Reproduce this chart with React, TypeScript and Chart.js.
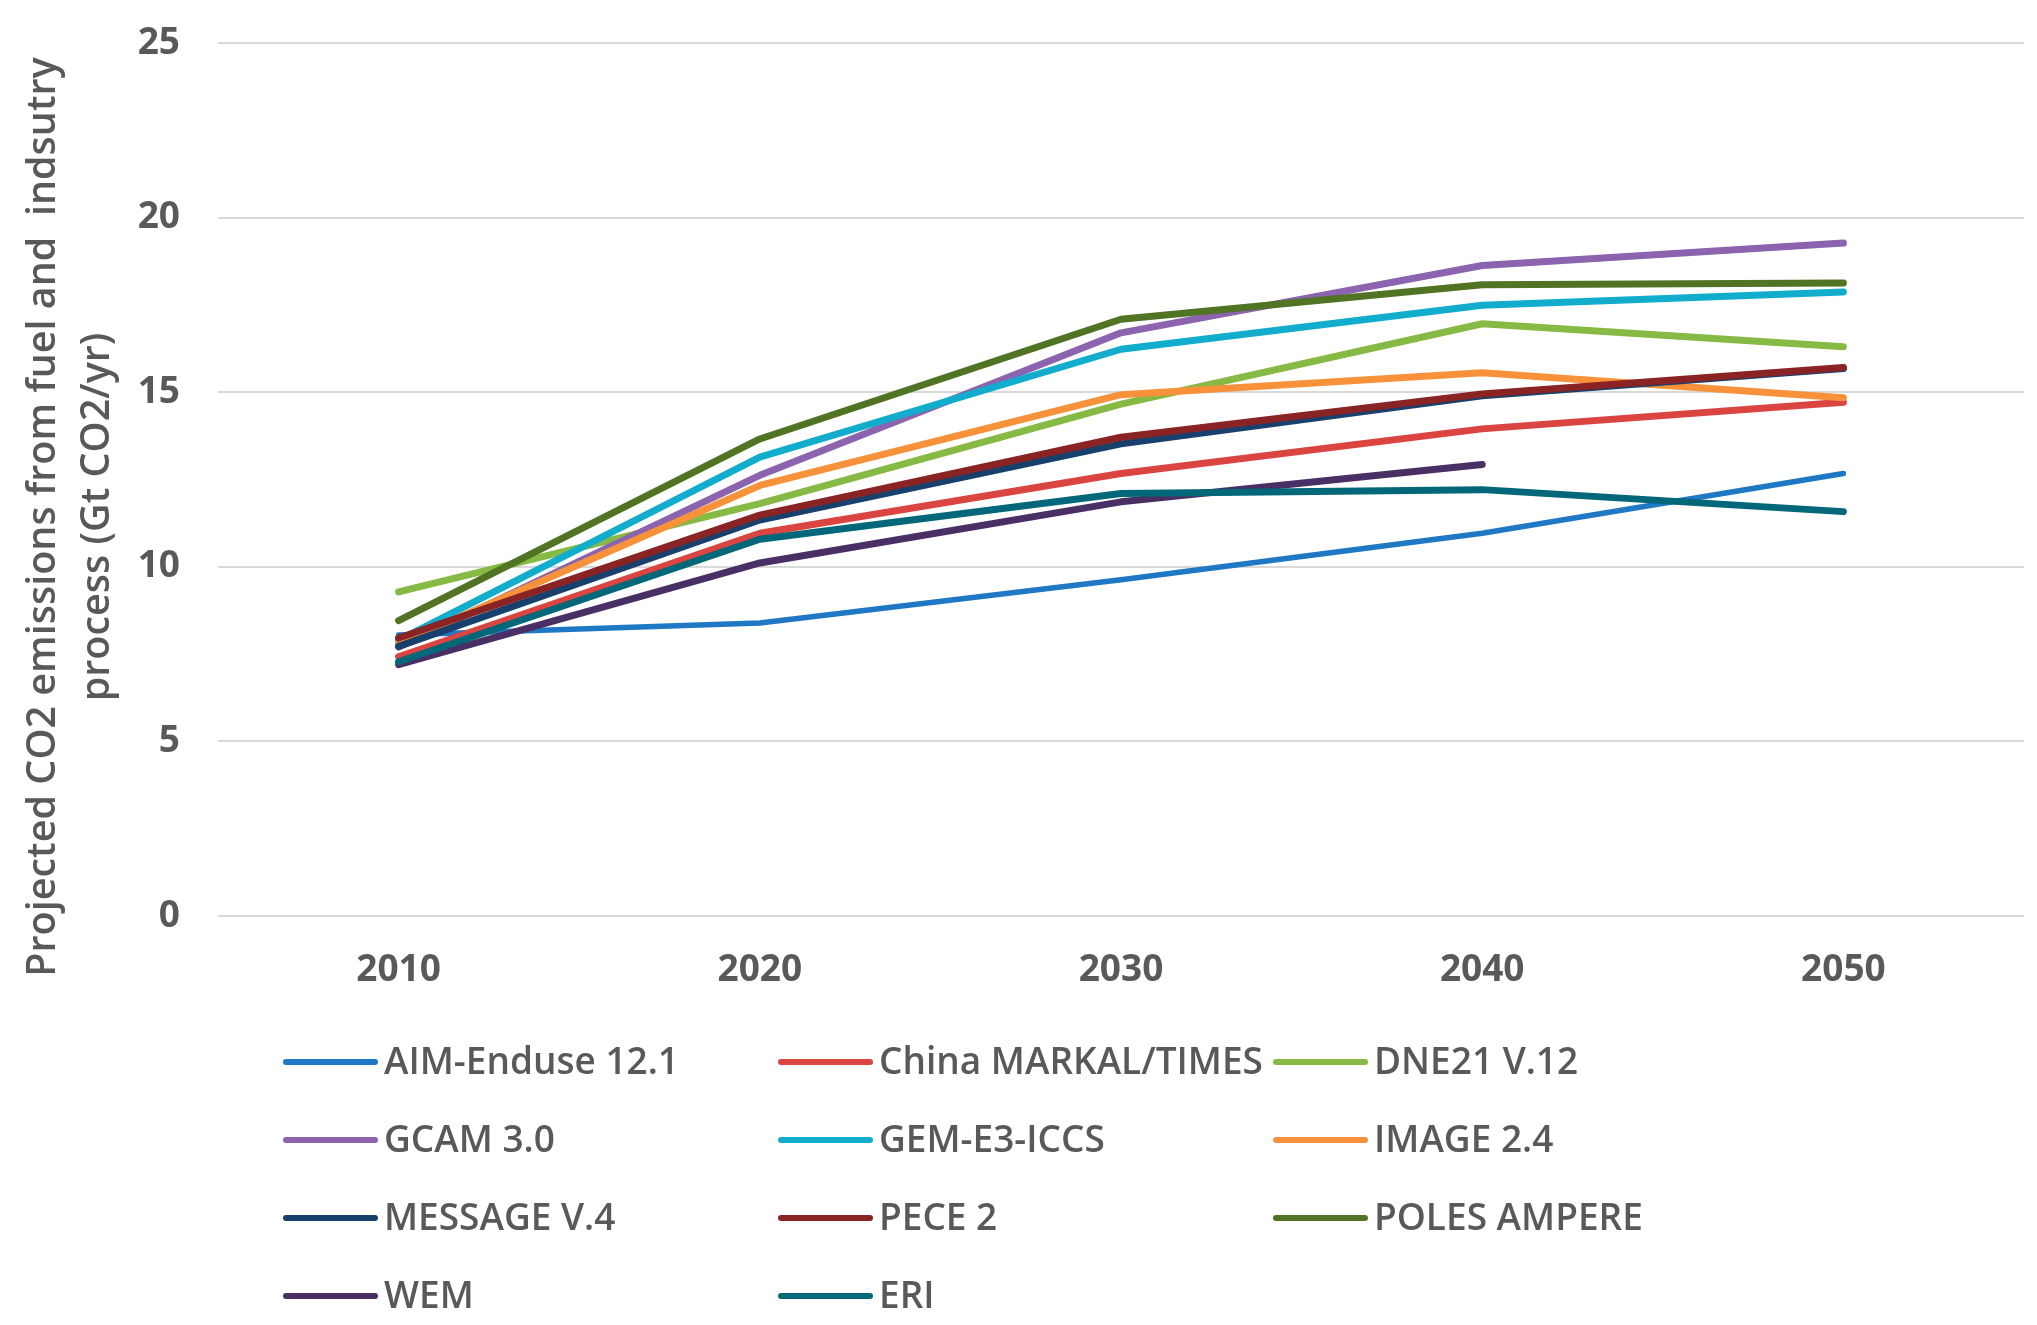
import React, { useEffect, useRef } from "react";
import { Chart, registerables } from "chart.js";

Chart.register(...registerables);

const years = ["2010", "2020", "2030", "2040", "2050"];
const yTicks = [0, 5, 10, 15, 20, 25];

const seriesNames = [
  "AIM-Enduse 12.1",
  "China MARKAL/TIMES",
  "DNE21 V.12",
  "GCAM 3.0",
  "GEM-E3-ICCS",
  "IMAGE 2.4",
  "MESSAGE V.4",
  "PECE 2",
  "POLES AMPERE",
  "WEM",
  "ERI",
];

const aimEnduse = [8.05, 8.39, 9.63, 10.96, 12.67];
const chinaMarkal = [7.42, 10.96, 12.67, 13.95, 14.71];
const dne21 = [9.28, 11.81, 14.66, 16.96, 16.3];
const gcam = [7.7, 12.62, 16.7, 18.63, 19.27];
const gemE3 = [7.9, 13.14, 16.23, 17.49, 17.87];
const image24 = [7.8, 12.33, 14.93, 15.56, 14.84];
const messageV4 = [7.72, 11.34, 13.52, 14.9, 15.68];
const pece2 = [7.96, 11.48, 13.71, 14.95, 15.71];
const polesAmpere = [8.46, 13.66, 17.09, 18.08, 18.13];
const wem = [7.2, 10.11, 11.86, 12.93, null];
const eri = [7.28, 10.79, 12.1, 12.21, 11.58];

const seriesValues = [
  aimEnduse,
  chinaMarkal,
  dne21,
  gcam,
  gemE3,
  image24,
  messageV4,
  pece2,
  polesAmpere,
  wem,
  eri,
];

const seriesColors = [
  "#1F78C4",
  "#DA4541",
  "#87BA44",
  "#8B63AE",
  "#12ADCD",
  "#F8923A",
  "#17406D",
  "#8A2323",
  "#507324",
  "#4A2F65",
  "#03677A",
];

const yTitleLines = [
  "Projected CO2 emissions from fuel and  indsutry",
  "process (Gt CO2/yr)",
];

const TEXT_COLOR = "#595959";
const FONT = "'Open Sans', 'DejaVu Sans', sans-serif";

const yTitlePlugin = {
  id: "yTitlePlugin",
  afterDraw(chart: any) {
    const ctx = chart.ctx;
    ctx.save();
    ctx.fillStyle = TEXT_COLOR;
    ctx.font = `600 39.5px ${FONT}`;
    ctx.textAlign = "center";
    ctx.textBaseline = "middle";
    const cy = 517;
    const xs = [44, 98];
    yTitleLines.forEach((line, i) => {
      ctx.save();
      ctx.translate(xs[i], cy);
      ctx.rotate(-Math.PI / 2);
      ctx.fillText(line, 0, 0);
      ctx.restore();
    });
    ctx.restore();
  },
};

const gridLegendPlugin = {
  id: "gridLegendPlugin",
  afterDraw(chart: any) {
    const ctx = chart.ctx;
    const area = chart.chartArea;
    const x0 = area.left + 65;
    const colW = 495;
    const y0 = 1062;
    const rowH = 78;
    const lineLen = 95;
    ctx.save();
    ctx.font = `600 37px ${FONT}`;
    ctx.textBaseline = "middle";
    ctx.textAlign = "left";
    chart.data.datasets.forEach((ds: any, i: number) => {
      const col = i % 3;
      const row = Math.floor(i / 3);
      const x = x0 + col * colW;
      const y = y0 + row * rowH;
      ctx.strokeStyle = ds.borderColor;
      ctx.lineWidth = 6;
      ctx.lineCap = "round";
      ctx.beginPath();
      ctx.moveTo(x + 3, y);
      ctx.lineTo(x + lineLen - 3, y);
      ctx.stroke();
      ctx.fillStyle = TEXT_COLOR;
      ctx.fillText(ds.label, x + lineLen + 6, y + 1);
    });
    ctx.restore();
  },
};

export default function App() {
  const canvasRef = useRef<HTMLCanvasElement | null>(null);

  useEffect(() => {
    document.body.style.margin = "0";
    document.body.style.overflow = "hidden";
    const canvas = canvasRef.current;
    if (!canvas) return;
    const chart = new Chart(canvas, {
      type: "line",
      data: {
        labels: years,
        datasets: seriesNames.map((name, i) => ({
          label: name,
          data: seriesValues[i],
          borderColor: seriesColors[i],
          backgroundColor: seriesColors[i],
          borderWidth: i === 0 ? 5.5 : 7,
          borderCapStyle: "round",
          borderJoinStyle: "round",
          pointRadius: 0,
          pointHoverRadius: 0,
          fill: false,
          tension: 0,
          order: -i,
        })),
      },
      options: {
        animation: false,
        responsive: false,
        devicePixelRatio: 1,
        layout: { padding: { top: 43, right: 13, left: 0, bottom: 0 } },
        plugins: {
          legend: { display: false },
          tooltip: { enabled: false },
          title: { display: false },
        },
        scales: {
          x: {
            type: "category",
            offset: true,
            grid: { display: false, drawTicks: false },
            border: { display: false },
            ticks: {
              color: TEXT_COLOR,
              font: { family: FONT, size: 37, weight: "bold" },
              padding: 32,
              maxRotation: 0,
              autoSkip: false,
            },
            afterFit(scale: any) {
              scale.height = 409;
            },
          },
          y: {
            min: 0,
            max: 25,
            afterBuildTicks(scale: any) {
              scale.ticks = yTicks.map((v) => ({ value: v }));
            },
            grid: { color: "#D9D9D9", lineWidth: 2, drawTicks: false },
            border: { display: false },
            ticks: {
              color: TEXT_COLOR,
              font: { family: FONT, size: 37, weight: "bold" },
              padding: 38,
            },
            afterFit(scale: any) {
              scale.width = 218;
              scale.paddingTop = 20;
              scale.paddingBottom = 20;
            },
          },
        },
      },
      plugins: [yTitlePlugin, gridLegendPlugin],
    } as any);
    return () => chart.destroy();
  }, []);

  return (
    <div style={{ position: "absolute", left: 0, top: 0, width: 2037, height: 1325, background: "#fff" }}>
      <canvas ref={canvasRef} width={2037} height={1325} style={{ width: 2037, height: 1325, display: "block" }} />
    </div>
  );
}
